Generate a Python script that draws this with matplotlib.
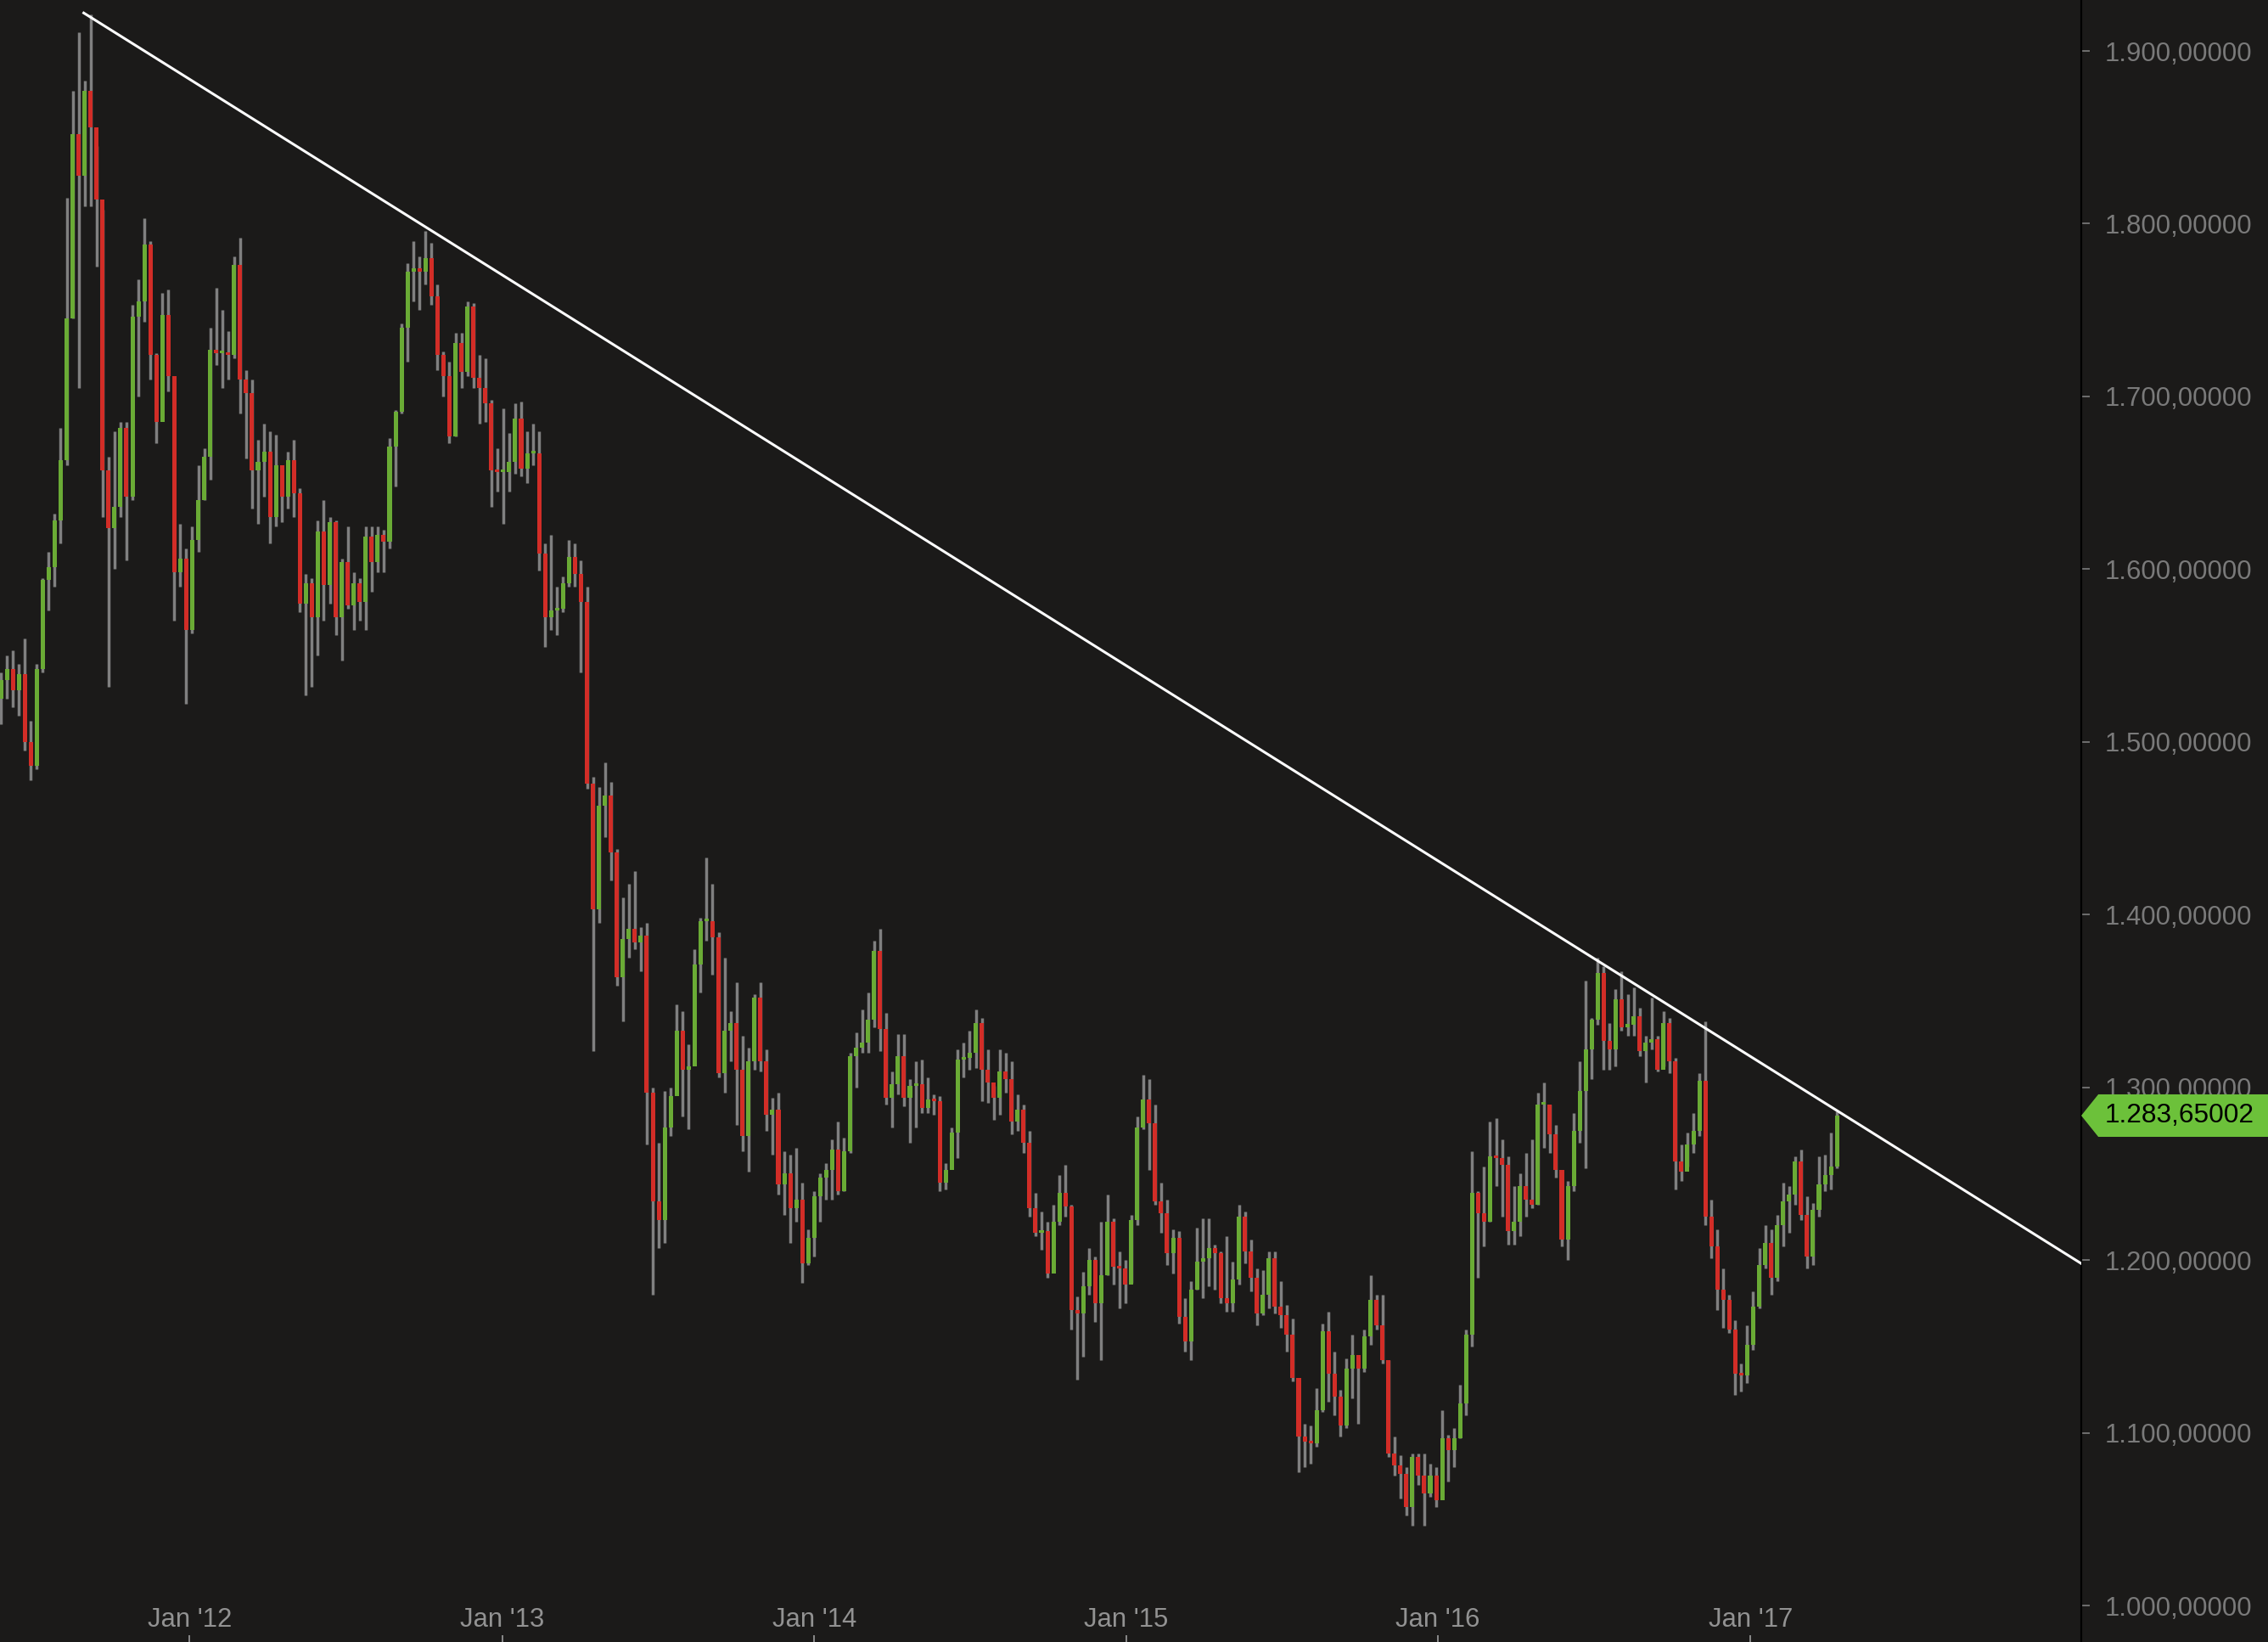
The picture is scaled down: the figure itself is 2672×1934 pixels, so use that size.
import numpy as np
import pandas as pd
import matplotlib
matplotlib.use("Agg")
import matplotlib.pyplot as plt
import matplotlib.dates as mdates
from matplotlib.patches import Polygon
from matplotlib.ticker import FuncFormatter

# --- Config ---
BG = "#1b1a19"
UP_COLOR = "#6aab35"
DOWN_COLOR = "#d22d27"
WICK_COLOR = "#808080"
LABEL_GREEN = "#6cc13a"
FONT = ["Liberation Sans", "DejaVu Sans"]

# --- Data: weekly candles (week ending Friday) ---
FIRST_WEEK = "2011-05-27"
FIRST_OPEN = 1525

CLOSE_2011 = [1536, 1542, 1530, 1539, 1500, 1486, 1542, 1594, 1601, 1628, 1663, 1745,
              1852, 1828, 1877, 1856, 1814, 1657, 1624, 1636, 1682, 1642, 1746, 1755,
              1788, 1724, 1685, 1747, 1712, 1598, 1606, 1565]
HIGH_2011 = [1540, 1550, 1553, 1545, 1560, 1512, 1545, 1595, 1610, 1632, 1682, 1815,
             1877, 1911, 1883, 1921, 1845, 1808, 1665, 1680, 1685, 1685, 1753, 1768,
             1803, 1790, 1725, 1760, 1762, 1712, 1626, 1612]
LOW_2011 = [1510, 1525, 1520, 1515, 1495, 1478, 1484, 1540, 1576, 1590, 1615, 1660,
            1745, 1705, 1810, 1810, 1775, 1630, 1532, 1600, 1630, 1605, 1640, 1700,
            1743, 1710, 1673, 1690, 1703, 1570, 1590, 1522]

CLOSE_2012 = [1617, 1640, 1665, 1727, 1725, 1725, 1724, 1776, 1710, 1702, 1657, 1662,
              1668, 1630, 1660, 1642, 1663, 1644, 1580, 1592, 1572, 1622, 1591, 1627,
              1572, 1604, 1579, 1592, 1581, 1619, 1604, 1620, 1616, 1671, 1691, 1740,
              1772, 1774, 1772, 1780, 1758, 1724, 1712, 1677, 1731, 1714, 1752, 1711,
              1705, 1696, 1657, 1656]
HIGH_2012 = [1625, 1660, 1670, 1740, 1763, 1750, 1738, 1781, 1792, 1715, 1710, 1675,
             1684, 1680, 1678, 1655, 1668, 1675, 1647, 1597, 1595, 1628, 1640, 1630,
             1628, 1606, 1625, 1598, 1595, 1625, 1625, 1625, 1623, 1676, 1692, 1742,
             1777, 1790, 1781, 1796, 1789, 1765, 1726, 1720, 1737, 1737, 1755, 1754,
             1724, 1722, 1698, 1670]
LOW_2012 = [1563, 1610, 1640, 1652, 1718, 1705, 1710, 1722, 1690, 1664, 1635, 1626,
            1642, 1615, 1625, 1627, 1635, 1630, 1575, 1527, 1532, 1550, 1570, 1580,
            1562, 1547, 1577, 1565, 1570, 1565, 1587, 1598, 1598, 1612, 1648, 1690,
            1720, 1755, 1750, 1765, 1753, 1715, 1700, 1673, 1677, 1705, 1712, 1705,
            1684, 1685, 1636, 1645]

CLOSE_2013 = [1656, 1662, 1687, 1658, 1667, 1667, 1609, 1572, 1576, 1577, 1592, 1607,
              1597, 1581, 1476, 1403, 1463, 1469, 1436, 1364, 1386, 1392, 1384, 1388,
              1297, 1234, 1223, 1277, 1295, 1333, 1310, 1312, 1371, 1396, 1396, 1387,
              1308, 1333, 1337, 1310, 1272, 1315, 1352, 1315, 1284, 1287, 1244, 1250,
              1230, 1235, 1198, 1213]
HIGH_2013 = [1693, 1679, 1696, 1697, 1680, 1684, 1680, 1615, 1620, 1590, 1596, 1617,
             1615, 1605, 1590, 1480, 1474, 1488, 1477, 1438, 1410, 1418, 1425, 1393,
             1395, 1300, 1268, 1298, 1300, 1348, 1344, 1325, 1380, 1398, 1433, 1418,
             1390, 1375, 1344, 1361, 1330, 1323, 1354, 1361, 1322, 1294, 1297, 1263,
             1261, 1265, 1245, 1218]
LOW_2013 = [1626, 1645, 1655, 1654, 1650, 1660, 1599, 1555, 1565, 1562, 1575, 1590,
            1590, 1540, 1473, 1321, 1395, 1445, 1420, 1359, 1338, 1375, 1380, 1367,
            1267, 1180, 1207, 1210, 1272, 1300, 1283, 1276, 1313, 1355, 1385, 1365,
            1306, 1297, 1315, 1278, 1263, 1251, 1310, 1309, 1275, 1261, 1238, 1226,
            1210, 1222, 1187, 1197]

CLOSE_2014 = [1237, 1248, 1252, 1264, 1240, 1263, 1318, 1323, 1326, 1339, 1379, 1334,
              1294, 1302, 1318, 1294, 1301, 1302, 1288, 1293, 1292, 1245, 1252, 1274,
              1316, 1317, 1320, 1337, 1310, 1303, 1294, 1309, 1305, 1280, 1287, 1268,
              1230, 1216, 1217, 1192, 1222, 1239, 1231, 1171, 1169, 1185, 1200, 1175,
              1191, 1222, 1196, 1195]
HIGH_2014 = [1240, 1250, 1256, 1270, 1280, 1271, 1320, 1332, 1345, 1355, 1385, 1392,
             1343, 1309, 1331, 1331, 1305, 1315, 1316, 1306, 1296, 1295, 1256, 1277,
             1322, 1326, 1333, 1345, 1340, 1322, 1301, 1322, 1320, 1315, 1296, 1290,
             1275, 1239, 1228, 1222, 1232, 1249, 1255, 1232, 1179, 1193, 1207, 1202,
             1222, 1238, 1224, 1205]
LOW_2014 = [1202, 1222, 1235, 1235, 1238, 1240, 1262, 1300, 1320, 1320, 1335, 1321,
            1290, 1277, 1296, 1289, 1268, 1277, 1285, 1285, 1284, 1240, 1241, 1253,
            1259, 1306, 1310, 1311, 1292, 1291, 1281, 1284, 1297, 1273, 1275, 1262,
            1225, 1214, 1206, 1190, 1203, 1220, 1225, 1160, 1131, 1144, 1180, 1164,
            1142, 1191, 1186, 1172]

CLOSE_2015 = [1186, 1223, 1277, 1293, 1279, 1234, 1227, 1204, 1213, 1167, 1153, 1183,
              1199, 1201, 1207, 1204, 1178, 1175, 1189, 1225, 1205, 1190, 1169, 1180,
              1201, 1173, 1168, 1157, 1132, 1098, 1095, 1094, 1113, 1159, 1134, 1121,
              1104, 1137, 1145, 1137, 1156, 1177, 1162, 1142, 1088, 1081, 1076, 1057,
              1086, 1075, 1065, 1075]
HIGH_2015 = [1200, 1226, 1283, 1307, 1305, 1290, 1245, 1235, 1218, 1217, 1178, 1188,
             1219, 1224, 1224, 1209, 1205, 1214, 1199, 1232, 1228, 1212, 1195, 1194,
             1205, 1205, 1188, 1174, 1166, 1132, 1105, 1104, 1126, 1163, 1170, 1147,
             1125, 1143, 1157, 1145, 1160, 1191, 1180, 1180, 1142, 1098, 1087, 1080,
             1088, 1088, 1088, 1082]
LOW_2015 = [1175, 1187, 1220, 1276, 1252, 1232, 1216, 1197, 1192, 1163, 1147, 1142,
            1183, 1178, 1185, 1183, 1175, 1170, 1170, 1186, 1198, 1182, 1162, 1168,
            1172, 1169, 1161, 1147, 1130, 1077, 1080, 1082, 1092, 1112, 1118, 1110,
            1098, 1103, 1120, 1105, 1135, 1151, 1160, 1140, 1086, 1075, 1062, 1052,
            1046, 1070, 1046, 1063]

CLOSE_2016 = [1061, 1097, 1090, 1097, 1117, 1157, 1239, 1227, 1222, 1260, 1259, 1255,
              1217, 1222, 1243, 1235, 1232, 1290, 1290, 1273, 1252, 1212, 1243, 1275,
              1298, 1322, 1339, 1366, 1327, 1322, 1351, 1335, 1336, 1341, 1321, 1326,
              1328, 1310, 1337, 1315, 1257, 1251, 1267, 1275, 1304, 1225, 1208, 1183,
              1177, 1160, 1134, 1133, 1151]
HIGH_2016 = [1080, 1113, 1099, 1103, 1128, 1160, 1263, 1240, 1254, 1280, 1282, 1270,
             1260, 1243, 1250, 1262, 1270, 1297, 1303, 1290, 1278, 1252, 1246, 1285,
             1315, 1362, 1340, 1375, 1370, 1337, 1357, 1367, 1354, 1358, 1346, 1330,
             1352, 1330, 1344, 1340, 1317, 1267, 1274, 1285, 1308, 1338, 1235, 1218,
             1195, 1180, 1165, 1140, 1162]
LOW_2016 = [1057, 1062, 1072, 1080, 1097, 1110, 1150, 1190, 1208, 1222, 1243, 1225,
            1209, 1209, 1214, 1225, 1230, 1232, 1265, 1262, 1248, 1208, 1200, 1240,
            1268, 1253, 1305, 1336, 1310, 1310, 1312, 1333, 1330, 1330, 1318, 1303,
            1322, 1309, 1312, 1308, 1241, 1246, 1254, 1262, 1272, 1220, 1201, 1171,
            1161, 1158, 1122, 1124, 1129]

CLOSE_2017 = [1173, 1197, 1210, 1190, 1220, 1234, 1238, 1257, 1226, 1202, 1229, 1244,
              1249, 1254, 1283.65002]
HIGH_2017 = [1182, 1207, 1220, 1218, 1226, 1245, 1243, 1260, 1264, 1237, 1233, 1260,
             1261, 1274, 1286]
LOW_2017 = [1148, 1172, 1195, 1180, 1188, 1208, 1216, 1232, 1223, 1195, 1197, 1225,
            1240, 1241, 1253]

# trendline drawn on the chart (two anchor points)
TREND_DATES = ["2011-08-30", "2018-01-23"]
TREND_VALUES = [1922, 1198]

X_START, X_END = "2011-05-24", "2018-01-23"
Y_MIN, Y_MAX = 978.9, 1929.5
Y_TICKS = [1000, 1100, 1200, 1300, 1400, 1500, 1600, 1700, 1800, 1900]
X_TICK_DATES = ["2012-01-01", "2013-01-01", "2014-01-01", "2015-01-01", "2016-01-01", "2017-01-01"]
X_TICK_LABELS = ["Jan '12", "Jan '13", "Jan '14", "Jan '15", "Jan '16", "Jan '17"]

# --- Build OHLC table ---
close = np.array(CLOSE_2011 + CLOSE_2012 + CLOSE_2013 + CLOSE_2014 + CLOSE_2015 + CLOSE_2016 + CLOSE_2017, dtype=float)
high = np.array(HIGH_2011 + HIGH_2012 + HIGH_2013 + HIGH_2014 + HIGH_2015 + HIGH_2016 + HIGH_2017, dtype=float)
low = np.array(LOW_2011 + LOW_2012 + LOW_2013 + LOW_2014 + LOW_2015 + LOW_2016 + LOW_2017, dtype=float)
opn = np.concatenate([[FIRST_OPEN], close[:-1]])
weeks = pd.date_range(FIRST_WEEK, periods=len(close), freq="W-FRI")
# candle drawn in the middle of its week
x = mdates.date2num(weeks - pd.Timedelta(days=2))

df = pd.DataFrame({"open": opn, "high": high, "low": low, "close": close}, index=weeks)
up = df["close"].values >= df["open"].values

# --- Plot ---
plt.rcParams["font.family"] = FONT
fig = plt.figure(figsize=(13.36, 9.67), dpi=200, facecolor=BG)
ax = fig.add_axes([0, 0, 2452 / 2672, 1])
ax.set_facecolor(BG)

ax.vlines(x, df["low"], df["high"], color=WICK_COLOR, linewidth=1.25, zorder=2)
body_bottom = np.minimum(df["open"].values, df["close"].values)
body_height = np.maximum(np.abs(df["close"].values - df["open"].values), 1.5)
ax.bar(x[up], body_height[up], bottom=body_bottom[up], width=5.0, color=UP_COLOR, linewidth=0, zorder=3)
ax.bar(x[~up], body_height[~up], bottom=body_bottom[~up], width=5.0, color=DOWN_COLOR, linewidth=0, zorder=3)

ax.plot(mdates.date2num(pd.to_datetime(TREND_DATES)), TREND_VALUES, color="white", linewidth=1.1, zorder=4)

ax.set_xlim(mdates.date2num(pd.Timestamp(X_START)), mdates.date2num(pd.Timestamp(X_END)))
ax.set_ylim(Y_MIN, Y_MAX)

# --- Axes styling ---
for side in ["top", "left", "bottom"]:
    ax.spines[side].set_visible(False)
ax.spines["right"].set_color("black")
ax.spines["right"].set_linewidth(0.8)

ax.yaxis.tick_right()
ax.set_yticks(Y_TICKS)
ax.yaxis.set_major_formatter(FuncFormatter(
    lambda v, _: f"{v:,.5f}".replace(",", "X").replace(".", ",").replace("X", ".")))
ax.tick_params(axis="y", colors="#6f6f6f", labelcolor="#7a7a7a", direction="out",
               length=3.6, width=0.7, pad=6.5, labelsize=11.2)

ax.set_xticks(mdates.date2num(pd.to_datetime(X_TICK_DATES)))
ax.set_xticklabels(X_TICK_LABELS)
ax.tick_params(axis="x", colors="#8a8a8a", labelcolor="#929292", direction="in",
               length=2.9, width=0.7, pad=-14.8, labelsize=11.2)

# --- Last price tag ---
last = close[-1]
half = 12.3
tag = Polygon([(1.0, last), (1.0082, last + half), (1.0898, last + half),
               (1.0898, last - half), (1.0082, last - half)],
              closed=True, transform=ax.get_yaxis_transform(), facecolor=LABEL_GREEN,
              edgecolor="none", clip_on=False, zorder=10)
ax.add_patch(tag)
tag_text = f"{last:,.5f}".replace(",", "X").replace(".", ",").replace("X", ".")
ax.text(1.0114, last, tag_text, transform=ax.get_yaxis_transform(), va="center", ha="left",
        color="black", fontsize=11.4, clip_on=False, zorder=11)

fig.savefig("out.png", dpi=200, facecolor=BG)
